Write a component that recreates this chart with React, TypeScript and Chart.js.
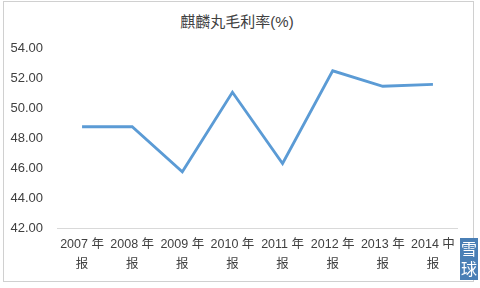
import React, { useEffect, useRef } from "react";
import { Chart, registerables } from "chart.js";

Chart.register(...registerables);

const categories: string[][] = [
  ["2007 年", "报"],
  ["2008 年", "报"],
  ["2009 年", "报"],
  ["2010 年", "报"],
  ["2011 年", "报"],
  ["2012 年", "报"],
  ["2013 年", "报"],
  ["2014 中", "报"],
];
const grossMargin: number[] = [48.75, 48.75, 45.75, 51.05, 46.3, 52.48, 51.45, 51.58];
const yMin = 42;
const yMax = 54;
const yStep = 2;
const titleText = "麒麟丸毛利率(%)";

const FONT = '"Liberation Sans", "Noto Sans CJK SC", sans-serif';

export default function App() {
  const ref = useRef<HTMLCanvasElement | null>(null);

  useEffect(() => {
    document.body.style.margin = "0";
    const canvas = ref.current;
    if (!canvas) return;
    const chart = new Chart(canvas, {
      type: "line",
      data: {
        labels: categories,
        datasets: [
          {
            data: grossMargin,
            borderColor: "#5B9BD5",
            borderWidth: 2.8,
            pointRadius: 0,
            tension: 0,
            fill: false,
          },
        ],
      },
      options: {
        animation: false,
        responsive: false,
        maintainAspectRatio: false,
        layout: { padding: { left: 0, right: 22, top: 48, bottom: 0 } },
        plugins: {
          legend: { display: false },
          tooltip: { enabled: false },
          title: { display: false },
        },
        scales: {
          x: {
            offset: true,
            grid: { display: false, drawTicks: false },
            border: { display: false },
            ticks: {
              color: "#404040",
              font: { family: FONT, size: 12.5, lineHeight: 1.6 },
              padding: 7,
              maxRotation: 0,
              autoSkip: false,
            },
            afterFit: (s: any) => {
              s.height = 60;
            },
          },
          y: {
            min: yMin,
            max: yMax,
            grid: {
              drawTicks: false,
              color: (ctx: any) => (ctx.tick && ctx.tick.value === yMin ? "#d9d9d9" : "rgba(0,0,0,0)"),
              lineWidth: 1,
            },
            border: { display: false },
            ticks: {
              stepSize: yStep,
              color: "#404040",
              font: { family: FONT, size: 13 },
              padding: 14,
              callback: (v: any) => Number(v).toFixed(2),
            },
            afterFit: (s: any) => {
              s.width = 57;
            },
          },
        },
      },
    });
    return () => chart.destroy();
  }, []);

  return (
    <div style={{ position: "fixed", left: 0, top: 0, width: 480, height: 288, background: "#fff", overflow: "hidden" }}>
      <div
        style={{
          position: "absolute",
          left: 3,
          top: 1,
          width: 469,
          height: 279,
          border: "1px solid #d0d0d0",
        }}
      />
      <div
        style={{
          position: "absolute",
          left: 137,
          top: 12,
          width: 200,
          textAlign: "center",
          fontFamily: FONT,
          fontSize: 15,
          lineHeight: "20px",
          color: "#404040",
        }}
      >
        {titleText}
      </div>
      <canvas ref={ref} width={480} height={288} style={{ position: "absolute", left: 0, top: 0 }} />
      <div
        style={{
          position: "absolute",
          left: 460,
          top: 238,
          width: 18,
          height: 42,
          background: "#4a7fb5",
          color: "#fff",
          fontFamily: '"Noto Sans CJK SC", sans-serif',
          fontSize: 16,
          lineHeight: "20px",
          textAlign: "center",
        }}
      >
        雪<br />球
      </div>
    </div>
  );
}
